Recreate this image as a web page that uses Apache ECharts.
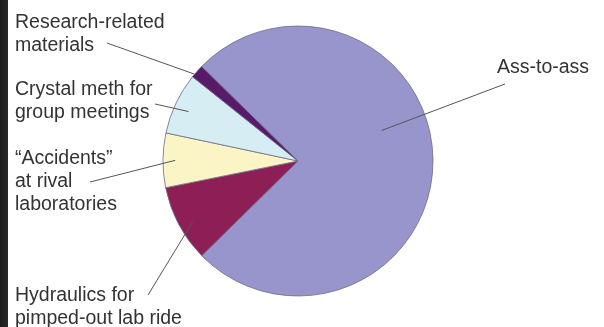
<!DOCTYPE html>
<html>
<head>
<meta charset="utf-8">
<script src="https://cdn.jsdelivr.net/npm/echarts@6/dist/echarts.min.js"></script>
<style>
html, body { margin: 0; padding: 0; background: #fff; }
#chart { width: 604px; height: 327px; background: linear-gradient(to right, #1c1c1c 0, #2a2a2a 8px, #fff 8px); }
</style>
</head>
<body>
<div id="chart"></div>
<script>
var names = ['Ass-to-ass', 'Hydraulics for\npimped-out lab ride', '\u201cAccidents\u201d\nat rival\nlaboratories', 'Crystal meth for\ngroup meetings', 'Research-related\nmaterials'];
var values = [75.3, 9.2, 6.5, 7.4, 1.6];
var colors = ['#9795cb', '#8d1f56', '#fbf5c6', '#d6edf3', '#5a1a6a'];

var cx = 298, cy = 161, R = 135, startAngle = 135.6;
// label boxes (left, top) and leader line ends
var labelPos = [[497, 56], [15, 284], [15, 147], [15, 78], [15, 11]];
var lineTail = [[8, 28], [133, 11], [75, 35], [140, 26], [92, 32]];
var lineTip = [{ f: 0.66, shift: 20 }, { f: 0.9, shift: 2 }, { f: 0.91, shift: 0 }, { f: 0.89, shift: 1 }, { f: 1.0, shift: 1.5 }];

var total = values.reduce(function (a, b) { return a + b; }, 0);
var mids = [];
var acc = 0;
values.forEach(function (v) {
  var a = v / total * 360;
  mids.push(startAngle - acc - a / 2);
  acc += a;
});

var chartDom = document.getElementById('chart');
var myChart = echarts.init(chartDom);
var option;

var pieData = names.map(function (n, i) {
  return { name: n, value: values[i], itemStyle: { color: colors[i] } };
});

option = {
  animation: false,
  series: [
    {
      // the slices
      type: 'pie',
      z: 2,
      center: [cx, cy],
      radius: R,
      startAngle: startAngle,
      clockwise: true,
      silent: true,
      emphasis: { disabled: true },
      itemStyle: {
        borderColor: '#6f6a88',
        borderWidth: 0.8
      },
      label: { show: false },
      labelLine: { show: false },
      data: pieData
    },
    {
      // same pie, transparent, on top: carries labels and leader lines
      type: 'pie',
      z: 5,
      center: [cx, cy],
      radius: R,
      startAngle: startAngle,
      clockwise: true,
      silent: true,
      avoidLabelOverlap: false,
      emphasis: { disabled: true },
      itemStyle: { color: 'rgba(0,0,0,0)', borderWidth: 0 },
      label: {
        show: true,
        position: 'outside',
        formatter: '{b}',
        fontFamily: 'Liberation Sans',
        fontSize: 19.5,
        lineHeight: 23,
        color: '#333'
      },
      labelLine: {
        show: true,
        lineStyle: { color: '#555', width: 1 }
      },
      labelLayout: function (params) {
        var i = params.dataIndex;
        var p = labelPos[i];
        var t = lineTip[i];
        var ang = (mids[i] + t.shift) * Math.PI / 180;
        var tip = [cx + t.f * R * Math.cos(ang), cy - t.f * R * Math.sin(ang)];
        var tail = [p[0] + lineTail[i][0], p[1] + lineTail[i][1]];
        return {
          x: p[0],
          y: p[1],
          align: 'left',
          verticalAlign: 'top',
          labelLinePoints: [tail, tip]
        };
      },
      data: names.map(function (n, i) {
        return { name: n, value: values[i] };
      })
    }
  ]
};

option && myChart.setOption(option);
</script>
</body>
</html>
